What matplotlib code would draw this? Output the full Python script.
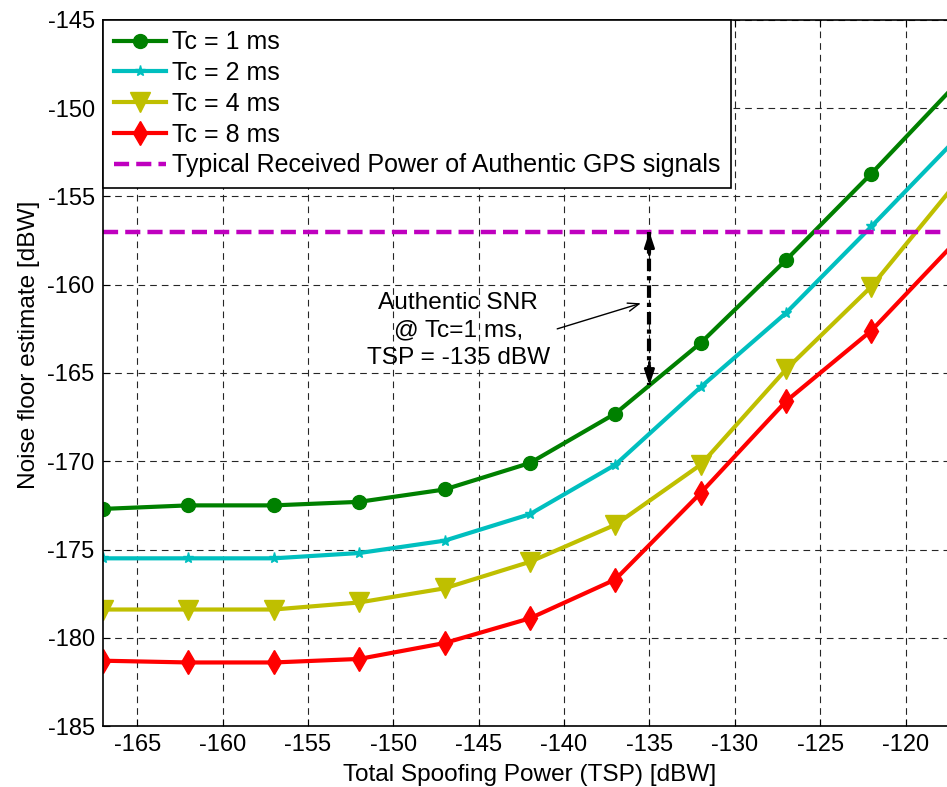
import matplotlib
matplotlib.use("Agg")
import matplotlib.pyplot as plt

plt.rcParams["font.family"] = ["Liberation Sans", "DejaVu Sans"]
plt.rcParams["axes.unicode_minus"] = False

# Total spoofing power sweep [dBW]
tsp = [-167, -162, -157, -152, -147, -142, -137, -132, -127, -122, -117]

# Noise floor estimate [dBW] per coherent integration time
nf_tc1 = [-172.7, -172.5, -172.5, -172.3, -171.6, -170.1, -167.3, -163.3, -158.6, -153.7, -148.6]
nf_tc2 = [-175.5, -175.5, -175.5, -175.2, -174.5, -173.0, -170.2, -165.8, -161.6, -156.7, -151.7]
nf_tc4 = [-178.4, -178.4, -178.4, -178.0, -177.2, -175.7, -173.6, -170.2, -164.8, -160.1, -154.2]
nf_tc8 = [-181.3, -181.4, -181.4, -181.2, -180.3, -178.9, -176.7, -171.8, -166.6, -162.6, -157.5]

gps_power = -157  # typical received power of authentic GPS signals [dBW]
snr_tsp = -135
snr_floor = -165.7  # Tc = 1 ms noise floor at TSP = -135 dBW

series = [
    ("Tc = 1 ms", nf_tc1, "#008000", "o", 10),
    ("Tc = 2 ms", nf_tc2, "#00BFBF", "*", 8),
    ("Tc = 4 ms", nf_tc4, "#BFBF00", "v", 14),
    ("Tc = 8 ms", nf_tc8, "#FF0000", "d", 12),
]

fig = plt.figure(figsize=(9.47, 7.87), dpi=100)
ax = fig.add_axes([0.1088, 0.0775, 0.9015, 0.8971])

for label, vals, color, marker, ms in series:
    ax.plot(tsp, vals, color=color, lw=3, marker=marker, ms=ms,
            mfc=color, mec=color, label=label)

ax.axhline(gps_power, color="#BF00BF", lw=3.2, linestyle=(0, (3.4, 1.6)),
           label="Typical Received Power of Authentic GPS signals")

# double-headed marker for the authentic SNR gap
ax.plot([snr_tsp, snr_tsp], [gps_power, snr_floor], color="k", lw=3,
        linestyle=(0, (3, 1.2, 1, 1.2)))
for tip, tail in ((gps_power, gps_power - 1.3), (snr_floor, snr_floor + 1.3)):
    ax.annotate("", xy=(snr_tsp, tip), xytext=(snr_tsp, tail),
                arrowprops=dict(arrowstyle="-|>,head_length=0.9,head_width=0.3",
                                color="k", lw=2, shrinkA=0, shrinkB=0))

ax.annotate("", xy=(-135.5, -161.05), xytext=(-140.4, -162.5),
            arrowprops=dict(arrowstyle="->,head_length=0.8,head_width=0.3",
                            color="k", lw=1, shrinkA=0, shrinkB=0))
ax.text(-146.2, -162.6, "Authentic SNR\n@ Tc=1 ms,\nTSP = -135 dBW",
        ha="center", va="center", fontsize=17.6, linespacing=1.32)

ax.set_xlim(-167, -117)
ax.set_ylim(-185, -145)
ax.set_xticks(range(-165, -115, 5))
ax.set_yticks(range(-185, -144, 5))
ax.tick_params(direction="in", length=5, labelsize=17, top=True, right=True,
               pad=6)
ax.grid(True, color="0.15", lw=0.8, linestyle=(0, (6, 4.5)))
for s in ax.spines.values():
    s.set_linewidth(1.2)

ax.set_xlabel("Total Spoofing Power (TSP) [dBW]", fontsize=17.6)
ax.set_ylabel("Noise floor estimate [dBW]", fontsize=17.6)
ax.yaxis.set_label_coords(-0.074, 0.54)
ax.xaxis.set_label_coords(0.5, -0.054)

leg = ax.legend(loc="upper left", fontsize=18, fancybox=False, framealpha=1,
                edgecolor="k", borderaxespad=0, handlelength=2.1,
                handletextpad=0.25, labelspacing=0.27, borderpad=0.42)
leg.get_frame().set_linewidth(1.2)

fig.savefig("out.png", dpi=100)
